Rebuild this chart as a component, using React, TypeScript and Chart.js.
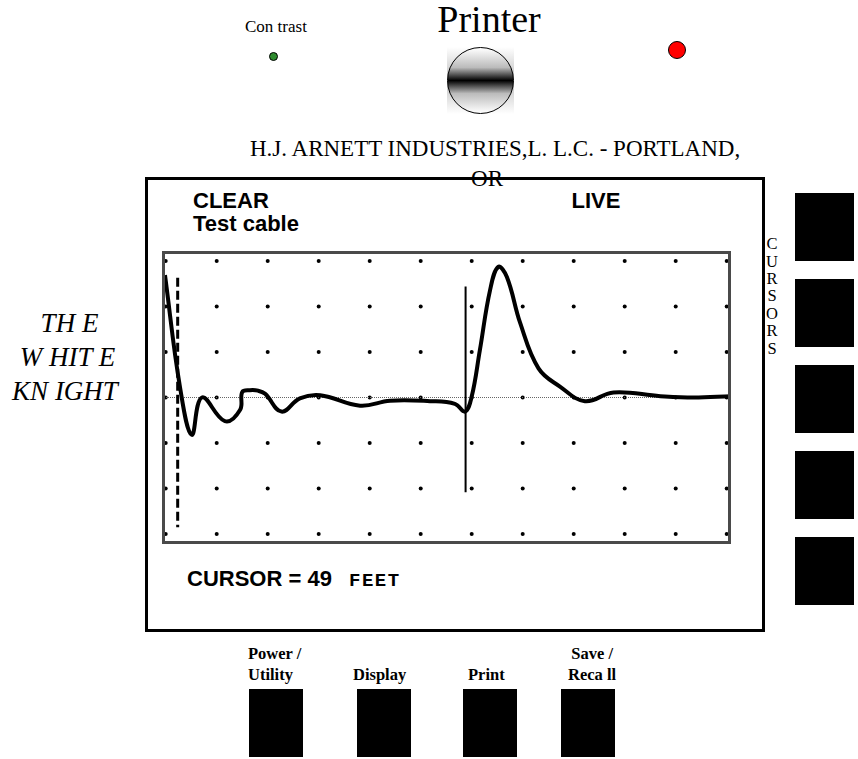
import React, { useEffect, useRef } from "react";
import { Chart, registerables } from "chart.js";

Chart.register(...registerables);

// ---- data ----
const TRACE_X = [-0.014, 0.28, 0.51, 0.71, 1.16, 1.46, 1.5, 1.65, 1.81, 1.95, 2.27, 2.63, 3.03, 3.81, 4.4, 5.18, 5.67, 5.87, 6.0, 6.16, 6.36, 6.52, 6.69, 6.95, 7.31, 7.73, 8.22, 8.78, 9.7, 10.35, 11.08];
const TRACE_Y = [2.69, 0.23, -0.82, 0.0, -0.52, -0.27, 0.12, 0.16, 0.15, 0.08, -0.31, -0.02, 0.05, -0.18, -0.07, -0.08, -0.14, -0.31, 0.02, 1.04, 2.36, 2.87, 2.65, 1.64, 0.64, 0.24, -0.08, 0.11, 0.03, 0.0, 0.03];
const GRID_COLS = [0, 1, 2, 3, 4, 5, 6, 7, 8, 9, 10, 11];
const GRID_ROWS = [-3, -2, -1, 0, 1, 2, 3];
const DASHED_CURSOR_X = 0.235;
const DASHED_CURSOR_Y = [2.63, -2.85];
const SOLID_CURSOR_X = 5.88;
const SOLID_CURSOR_Y = [2.44, -2.08];
const X_RANGE = [-0.0725, 11.084];
const Y_RANGE = [-3.22, 3.22];
const BASELINE_Y = 0;

const SERIF = '"Liberation Serif", "Times New Roman", serif';
const SANS = '"Liberation Sans", Arial, sans-serif';
const MONO = '"Liberation Mono", "Courier New", monospace';
const BASE: Record<string, number> = { [SERIF]: 0.8375, [SANS]: 0.8465, [MONO]: 0.7665 };

function T(props: any) {
  const { x, b, size, font = SERIF, weight = "normal", italic = false, align = "left", ls, children } = props;
  const style: any = {
    position: "absolute",
    top: b - BASE[font] * size,
    fontFamily: font,
    fontSize: size,
    lineHeight: `${size}px`,
    whiteSpace: "pre",
    fontWeight: weight,
    fontStyle: italic ? "italic" : "normal",
    color: "#000",
  };
  if (ls !== undefined) style.letterSpacing = ls;
  if (align === "left") style.left = x;
  else if (align === "center") {
    style.left = x;
    style.transform = "translateX(-50%)";
  } else style.right = 858 - x;
  return <div style={style}>{children}</div>;
}

function Box(props: any) {
  const { x, y, w, h, style } = props;
  return <div style={{ position: "absolute", left: x, top: y, width: w, height: h, background: "#000", ...style }} />;
}

const borderPlugin = {
  id: "plotBorder",
  afterDraw(chart: any) {
    const { ctx, chartArea } = chart;
    ctx.save();
    ctx.strokeStyle = "#4a4a4a";
    ctx.lineWidth = 3;
    ctx.strokeRect(chartArea.left + 1.5, chartArea.top + 1.5, chartArea.width - 3, chartArea.height - 3);
    ctx.restore();
  },
};

function Trace() {
  const ref = useRef<HTMLCanvasElement>(null);
  useEffect(() => {
    if (!ref.current) return;
    const dots: any[] = [];
    GRID_COLS.forEach((c) => GRID_ROWS.forEach((r) => dots.push({ x: c, y: r })));
    const chart = new Chart(ref.current, {
      type: "line",
      data: {
        datasets: [
          {
            data: TRACE_X.map((x, i) => ({ x, y: TRACE_Y[i] })),
            borderColor: "#000",
            borderWidth: 4,
            pointRadius: 0,
            tension: 0.4,
            fill: false,
          },
          {
            data: [{ x: SOLID_CURSOR_X, y: SOLID_CURSOR_Y[0] }, { x: SOLID_CURSOR_X, y: SOLID_CURSOR_Y[1] }],
            borderColor: "#000",
            borderWidth: 2,
            pointRadius: 0,
          },
          {
            data: [{ x: DASHED_CURSOR_X, y: DASHED_CURSOR_Y[0] }, { x: DASHED_CURSOR_X, y: DASHED_CURSOR_Y[1] }],
            borderColor: "#000",
            borderWidth: 3,
            borderDash: [9, 4],
            pointRadius: 0,
          },
          {
            data: [{ x: X_RANGE[0], y: BASELINE_Y }, { x: X_RANGE[1], y: BASELINE_Y }],
            borderColor: "#666",
            borderWidth: 1,
            borderDash: [1, 1],
            pointRadius: 0,
          },
          {
            data: dots,
            showLine: false,
            pointRadius: 2,
            pointBackgroundColor: "#000",
            pointBorderWidth: 0,
            borderColor: "#000",
          },
        ],
      },
      options: {
        animation: false,
        responsive: false,
        events: [],
        layout: { padding: 0, autoPadding: false },
        plugins: { legend: { display: false }, tooltip: { enabled: false } },
        scales: {
          x: { type: "linear", display: false, min: X_RANGE[0], max: X_RANGE[1] },
          y: { type: "linear", display: false, min: Y_RANGE[0], max: Y_RANGE[1] },
        },
      },
      plugins: [borderPlugin],
    });
    return () => chart.destroy();
  }, []);
  return <canvas ref={ref} width={569} height={293} style={{ position: "absolute", left: 162, top: 251, width: 569, height: 293, background: "#fff" }} />;
}

export default function App() {
  const cursors = ["C", "U", "R", "S", "O", "R", "S"];
  const rightBtns = [193, 279, 365, 451, 537];
  const bottomBtns = [249, 357, 463, 561];
  return (
    <div style={{ position: "absolute", left: 0, top: 0, width: 858, height: 759, overflow: "hidden", background: "#fff" }}>
      <T x={245} b={32} size={17}>Con trast</T>
      <T x={489} b={32} size={38} align="center">Printer</T>
      <div style={{ position: "absolute", left: 269, top: 51.5, width: 7, height: 7, borderRadius: "50%", background: "#2e8b2e", border: "1px solid #000" }} />
      <div style={{ position: "absolute", left: 668, top: 41, width: 16, height: 16, borderRadius: "50%", background: "#ff0000", border: "1.5px solid #000" }} />
      <div style={{ position: "absolute", left: 447, top: 47, width: 67, height: 67, background: "linear-gradient(to bottom, #fff 0%, #000 50%, #fff 100%)", opacity: 0.25 }} />
      <div style={{ position: "absolute", left: 447, top: 47, width: 67, height: 67, boxSizing: "border-box", borderRadius: "50%", border: "1.5px solid #000", background: "linear-gradient(to bottom, #fff 0%, #bbb 30%, #000 50%, #bbb 70%, #fff 100%)" }} />

      <div style={{ position: "absolute", left: 145, top: 177, width: 620, height: 455, boxSizing: "border-box", border: "3px solid #000" }} />
      <T x={250} b={156} size={23}>H.J. ARNETT INDUSTRIES,L. L.C. - PORTLAND,</T>
      <T x={487} b={186.5} size={23} align="center">OR</T>

      <T x={193} b={208.3} size={22} font={SANS} weight="bold">CLEAR</T>
      <T x={193} b={231.7} size={22} font={SANS} weight="bold">Test cable</T>
      <T x={571.5} b={208.3} size={22} font={SANS} weight="bold">LIVE</T>

      <Trace />

      <T x={187} b={586.7} size={22} font={SANS} weight="bold">CURSOR = 49</T>
      <T x={349} b={586.7} size={19} font={MONO} weight="bold" ls="1.5px">FEET</T>

      <T x={69.5} b={333} size={27} italic align="center">TH E</T>
      <T x={67.5} b={367} size={27} italic align="center">W HIT E</T>
      <T x={65} b={401} size={27} italic align="center">KN IGHT</T>

      {cursors.map((c, i) => (
        <T key={i} x={772} b={250 + 17.4 * i} size={16.5} align="center">{c}</T>
      ))}
      {rightBtns.map((y, i) => (
        <Box key={i} x={795} y={y} w={59} h={68} />
      ))}

      <T x={248} b={660} size={16.5} weight="bold">Power /</T>
      <T x={248} b={681} size={16.5} weight="bold">Utility</T>
      <T x={353} b={681} size={16.5} weight="bold">Display</T>
      <T x={468} b={681} size={16.5} weight="bold">Print</T>
      <T x={613} b={660} size={16.5} weight="bold" align="right">Save /</T>
      <T x={568} b={681} size={16.5} weight="bold">Reca ll</T>
      {bottomBtns.map((x, i) => (
        <Box key={i} x={x} y={689} w={54} h={68} />
      ))}
    </div>
  );
}
